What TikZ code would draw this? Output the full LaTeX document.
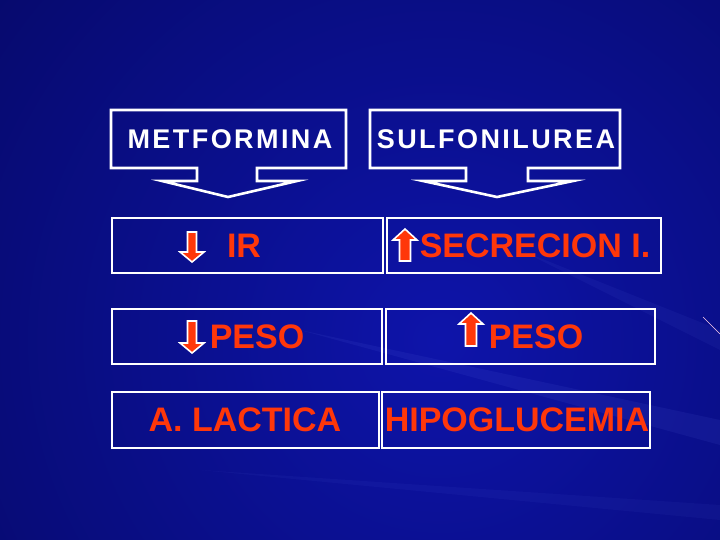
\documentclass[tikz,border=0pt]{standalone}
\usepackage{fontspec}
\setmainfont{Liberation Sans}
\usetikzlibrary{positioning}
\definecolor{bgblue}{RGB}{14,20,170}
\definecolor{bgdark}{RGB}{2,4,75}
\definecolor{txtred}{RGB}{255,55,10}
\definecolor{streak}{RGB}{120,140,255}

\begin{document}
\begin{tikzpicture}[x=1pt,y=-1pt,
    cell/.style={draw=white,line width=2.6pt,minimum height=55pt,inner sep=0pt},
    redtxt/.style={text=txtred,font=\fontsize{34}{34}\selectfont\bfseries},
    hdrtxt/.style={text=white,font=\fontsize{27}{27}\selectfont\bfseries\addfontfeatures{LetterSpace=9}},
    callout/.style={draw=white,line width=2.6pt,line join=miter},
    arr/.style={draw=white,line width=1.6pt,fill=txtred,line join=miter}]
    % background
    \useasboundingbox (0,0) rectangle (720,540);
    \begin{scope}
      \clip (0,0) rectangle (720,540);
      \fill[bgdark] (0,0) rectangle (720,540);
      \shade[inner color=bgblue,outer color=bgdark] (440,340) circle (880);
      \fill[streak,opacity=0.08] (300,330) -- (720,420) -- (720,445) -- cycle;
      \fill[streak,opacity=0.06] (520,250) -- (720,330) -- (720,350) -- cycle;
      \fill[streak,opacity=0.05] (200,470) -- (720,505) -- (720,520) -- cycle;
    \end{scope}
    \draw[white!80!magenta,line width=0.6pt] (703,317) -- (720,334);

    % headers
    \draw[callout] (111,110) -- (346,110) -- (346,168) -- (257,168) -- (257,181)
      -- (297,181) -- (228,197) -- (162,181) -- (197,181) -- (197,168) -- (111,168) -- cycle;
    \draw[callout] (370,110) -- (620,110) -- (620,168) -- (528,168) -- (528,181)
      -- (573,181) -- (497,197) -- (423,181) -- (466,181) -- (466,168) -- (370,168) -- cycle;
    \node[hdrtxt] (metf) at (230,139) {METFORMINA};
    \node[hdrtxt] (sulf) at (496,139) {SULFONILUREA};

    % row 1
    \node[cell,minimum width=271pt] (irbox) at (247.5,245.5) {};
    \node[cell,minimum width=274pt] (secbox) at (524,245.5) {};
    \node[redtxt] (ir) at (244,245.5) {IR};
    \node[redtxt] (sec) at (535,245.5) {SECRECION I.};
    \draw[arr] (187.5,232) -- (196.5,232) -- (196.5,252) -- (204,252) -- (192,262)
      -- (180,252) -- (187.5,252) -- cycle;
    \draw[arr] (405,229) -- (417,240) -- (410.5,240) -- (410.5,261) -- (399.5,261)
      -- (399.5,240) -- (393,240) -- cycle;

    % row 2
    \node[cell,minimum width=270pt] (pesoabox) at (247,336.5) {};
    \node[cell,minimum width=269pt] (pesobbox) at (520.5,336.5) {};
    \node[redtxt] (pesoa) at (257,336.5) {PESO};
    \node[redtxt] (pesob) at (536,336.5) {PESO};
    \draw[arr] (187.5,321) -- (196.5,321) -- (196.5,343) -- (204,343) -- (192,353)
      -- (180,343) -- (187.5,343) -- cycle;
    \draw[arr] (471,313) -- (483,324) -- (476.5,324) -- (476.5,346) -- (465.5,346)
      -- (465.5,324) -- (459,324) -- cycle;

    % row 3
    \node[cell,minimum width=267pt,minimum height=56pt] (lacbox) at (245.5,420) {};
    \node[cell,minimum width=268pt,minimum height=56pt] (hipbox) at (516,420) {};
    \node[redtxt] (lac) at (245,420) {A. LACTICA};
    \node[redtxt] (hip) at (517,420) {HIPOGLUCEMIA};
  \end{tikzpicture}
\end{document}
